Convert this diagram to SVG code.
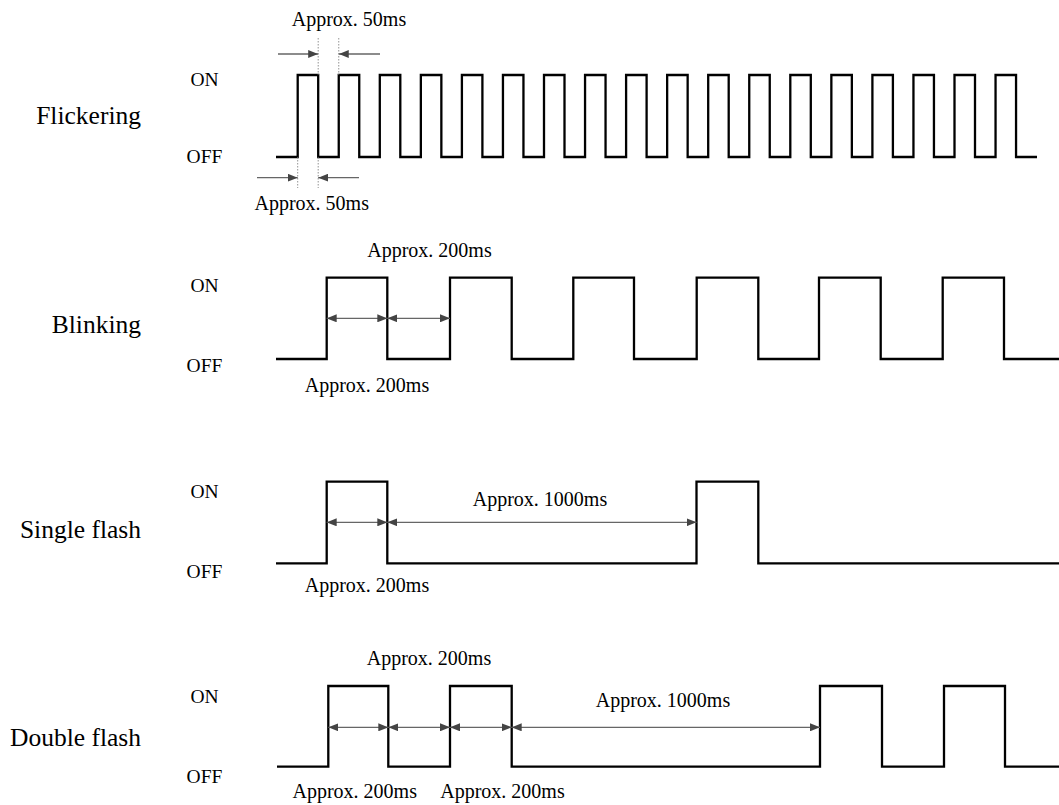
<svg xmlns="http://www.w3.org/2000/svg" width="1059" height="805" viewBox="0 0 1059 805">
<style>
.wave{fill:none;stroke:#000;stroke-width:2.3;stroke-linejoin:miter}
.dim{fill:none;stroke:#666;stroke-width:1.3}
.dot{fill:none;stroke:#777;stroke-width:0.8;stroke-dasharray:1.5,1.5}
.lbl{font-family:"Liberation Serif","Times New Roman",serif;font-size:25.5px;fill:#000;text-anchor:end}
.lvl{font-family:"Liberation Serif","Times New Roman",serif;font-size:19.5px;fill:#000;text-anchor:middle}
.ap{font-family:"Liberation Serif","Times New Roman",serif;font-size:20px;fill:#000;text-anchor:middle}
</style>
<defs>
<marker id="ah" viewBox="0 0 10 8" refX="10" refY="4" markerWidth="10" markerHeight="8" markerUnits="userSpaceOnUse" orient="auto-start-reverse">
<path d="M0,0 L10,4 L0,8 Z" fill="#444"/>
</marker>
</defs>

<g id="flickering">
<text class="lbl" x="141" y="124">Flickering</text>
<text class="lvl" x="204.5" y="86">ON</text>
<text class="lvl" x="204.5" y="163">OFF</text>
<path class="wave" d="M276,157 H297.7 V75 H318.2 V157 H338.75 V75 H359.25 V157 H379.8 V75 H400.3 V157 H420.85 V75 H441.35 V157 H461.9 V75 H482.4 V157 H502.95 V75 H523.45 V157 H544 V75 H564.5 V157 H585.05 V75 H605.55 V157 H626.1 V75 H646.6 V157 H667.15 V75 H687.65 V157 H708.2 V75 H728.7 V157 H749.25 V75 H769.75 V157 H790.3 V75 H810.8 V157 H831.35 V75 H851.85 V157 H872.4 V75 H892.9 V157 H913.45 V75 H933.95 V157 H954.5 V75 H975 V157 H995.55 V75 H1016.05 V157 H1037"/>
</g>

<g id="blinking">
<text class="lbl" x="141" y="333">Blinking</text>
<text class="lvl" x="204.5" y="292">ON</text>
<text class="lvl" x="204.5" y="372">OFF</text>
<path class="wave" d="M276,359 H326.7 V277.7 H387.3 V359 H450 V277.7 H511.7 V359 H573.3 V277.7 H634 V359 H696.7 V277.7 H758.3 V359 H819 V277.7 H880.7 V359 H942.7 V277.7 H1004 V359 H1059"/>
</g>

<g id="single-flash">
<text class="lbl" x="141" y="538">Single flash</text>
<text class="lvl" x="204.5" y="498">ON</text>
<text class="lvl" x="204.5" y="578">OFF</text>
<path class="wave" d="M276,563.3 H326.7 V481.7 H387.3 V563.3 H696.5 V481.7 H758.3 V563.3 H1059"/>
</g>

<g id="double-flash">
<text class="lbl" x="141" y="746">Double flash</text>
<text class="lvl" x="204.5" y="703">ON</text>
<text class="lvl" x="204.5" y="783">OFF</text>
<path class="wave" d="M277,766.7 H328.3 V686 H388.3 V766.7 H450 V686 H511.7 V766.7 H820 V686 H882 V766.7 H944 V686 H1005 V766.7 H1059"/>
</g>

<g id="connectors">
<line class="dot" x1="318.2" y1="38" x2="318.2" y2="75"/>
<line class="dot" x1="338.75" y1="38" x2="338.75" y2="75"/>
<line class="dim" x1="278" y1="54" x2="318.2" y2="54" marker-end="url(#ah)"/>
<line class="dim" x1="380" y1="54" x2="338.75" y2="54" marker-end="url(#ah)"/>
<line class="dot" x1="297.7" y1="157" x2="297.7" y2="188"/>
<line class="dot" x1="318.2" y1="157" x2="318.2" y2="188"/>
<line class="dim" x1="257" y1="177.7" x2="297.7" y2="177.7" marker-end="url(#ah)"/>
<line class="dim" x1="359" y1="177.7" x2="318.2" y2="177.7" marker-end="url(#ah)"/>

<line class="dim" x1="326.7" y1="318.3" x2="387.3" y2="318.3" marker-start="url(#ah)" marker-end="url(#ah)"/>
<line class="dim" x1="387.3" y1="318.3" x2="450" y2="318.3" marker-start="url(#ah)" marker-end="url(#ah)"/>

<line class="dim" x1="326.7" y1="522.3" x2="387.3" y2="522.3" marker-start="url(#ah)" marker-end="url(#ah)"/>
<line class="dim" x1="387.3" y1="522.3" x2="696.5" y2="522.3" marker-start="url(#ah)" marker-end="url(#ah)"/>

<line class="dim" x1="328.3" y1="727.3" x2="388.3" y2="727.3" marker-start="url(#ah)" marker-end="url(#ah)"/>
<line class="dim" x1="388.3" y1="727.3" x2="450" y2="727.3" marker-start="url(#ah)" marker-end="url(#ah)"/>
<line class="dim" x1="450" y1="727.3" x2="511.7" y2="727.3" marker-start="url(#ah)" marker-end="url(#ah)"/>
<line class="dim" x1="511.7" y1="727.3" x2="820" y2="727.3" marker-start="url(#ah)" marker-end="url(#ah)"/>
</g>

<g id="annotations">
<text class="ap" x="349" y="26">Approx. 50ms</text>
<text class="ap" x="311.7" y="210">Approx. 50ms</text>
<text class="ap" x="429.5" y="256.7">Approx. 200ms</text>
<text class="ap" x="367" y="391.7">Approx. 200ms</text>
<text class="ap" x="540" y="506">Approx. 1000ms</text>
<text class="ap" x="367" y="591.7">Approx. 200ms</text>
<text class="ap" x="429" y="665">Approx. 200ms</text>
<text class="ap" x="663" y="707">Approx. 1000ms</text>
<text class="ap" x="354.7" y="798">Approx. 200ms</text>
<text class="ap" x="502.5" y="798">Approx. 200ms</text>
</g>
</svg>
